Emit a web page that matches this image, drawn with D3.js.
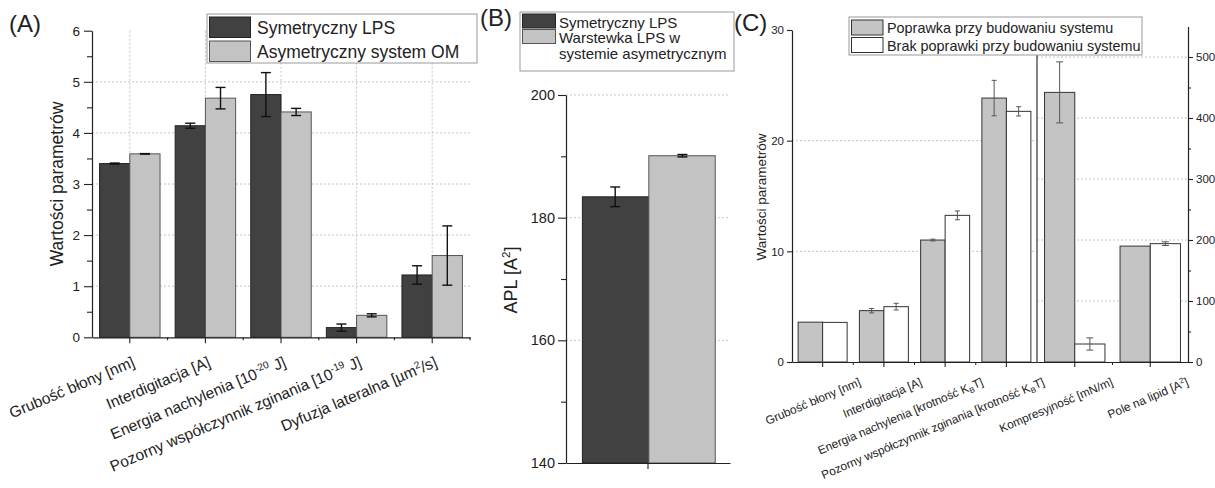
<!DOCTYPE html>
<html><head><meta charset="utf-8">
<script src="https://cdn.jsdelivr.net/npm/d3@7"></script>
<style>
body{margin:0;background:#fff}
svg{display:block}
text{font-family:"Liberation Sans",Arial,sans-serif;fill:#222}
</style>
</head><body>
<svg id="fig" width="1215" height="488"></svg>
<script>
// ---------- Panel A: parameters of symmetric vs asymmetric membranes ----------
const catsA = ["Grubość błony [nm]", "Interdigitacja [A]", "Energia nachylenia [10^{-20} J]",
  "Pozorny współczynnik zginania [10^{-19} J]", "Dyfuzja lateralna [µm^{2}/s]"];
const symA = [3.40, 4.14, 4.75, 0.19, 1.22];
const symAErr = [0.01, 0.05, 0.43, 0.07, 0.18];
const asymA = [3.59, 4.68, 4.41, 0.43, 1.60];
const asymAErr = [0.005, 0.21, 0.07, 0.03, 0.58];
const seriesA = ["Symetryczny LPS", "Asymetryczny system OM"];
const ticksA = [0, 1, 2, 3, 4, 5, 6];

// ---------- Panel B: area per lipid ----------
const catsB = ["APL"];
const aplSym = [183.4], aplSymErr = [1.6];
const aplAsym = [190.1], aplAsymErr = [0.2];
const seriesB = [["Symetryczny LPS"], ["Warstewka LPS w", "systemie asymetrycznym"]];
const ticksB = [140, 160, 180, 200];

// ---------- Panel C: with / without correction while building the system ----------
const catsCL = ["Grubość błony [nm]", "Interdigitacja [A]", "Energia nachylenia [krotność K_{B}T]",
  "Pozorny współczynnik zginania [krotność K_{B}T]"];
const corrCL = [3.60, 4.64, 11.02, 23.85];
const corrCLErr = [0, 0.2, 0.08, 1.6];
const noCorrCL = [3.58, 5.0, 13.25, 22.65];
const noCorrCLErr = [0, 0.3, 0.4, 0.42];
const catsCR = ["Kompresyjność [mN/m]", "Pole na lipid [A^{2}]"];
const corrCR = [442, 190];
const corrCRErr = [50, 0];
const noCorrCR = [29.5, 194];
const noCorrCRErr = [10, 3];
const seriesC = ["Poprawka przy budowaniu systemu", "Brak poprawki przy budowaniu systemu"];
const ticksCL = [0, 10, 20, 30];
const ticksCR = [0, 100, 200, 300, 400, 500];

const svg = d3.select("#fig");
const FONT = '"Liberation Sans",Arial,sans-serif';
const AX = "#222";
const GRID = "#c6c6c6";

// text with ^{sup} and _{sub} markup
function rich(t, str, fs) {
  const re = /([\^_])\{([^}]*)\}/g;
  let last = 0, m, cur = 0;
  const add = (s, off, size) => {
    t.append("tspan").attr("dy", off - cur).attr("font-size", size).text(s);
    cur = off;
  };
  while ((m = re.exec(str))) {
    if (m.index > last) add(str.slice(last, m.index), 0, fs);
    add(m[2], m[1] === "^" ? -0.38 * fs : 0.22 * fs, fs * 0.65);
    last = re.lastIndex;
  }
  if (last < str.length) add(str.slice(last), 0, fs);
  return t;
}

function styleAxis(g, fs) {
  g.select(".domain").attr("stroke", AX).attr("stroke-width", 1.2);
  g.selectAll(".tick line").attr("stroke", AX).attr("stroke-width", 1.1);
  g.selectAll("text").attr("font-family", FONT).attr("font-size", fs).attr("fill", "#222");
}

function hGrid(vals, y, x0, x1) {
  svg.append("g").selectAll("line").data(vals).join("line")
    .attr("x1", x0).attr("x2", x1).attr("y1", d => y(d)).attr("y2", d => y(d))
    .attr("stroke", GRID).attr("stroke-dasharray", "2,2");
}

function errBar(g, cx, y, v, e, cap, color, w) {
  if (!e) return;
  g.append("line").attr("x1", cx).attr("x2", cx).attr("y1", y(v - e)).attr("y2", y(v + e))
    .attr("stroke", color).attr("stroke-width", w);
  [v - e, v + e].forEach(q => g.append("line").attr("x1", cx - cap / 2).attr("x2", cx + cap / 2)
    .attr("y1", y(q)).attr("y2", y(q)).attr("stroke", color).attr("stroke-width", w));
}

function panelLabel(txt, x, y) {
  svg.append("text").attr("x", x).attr("y", y).attr("font-size", 24).text(txt);
}

// ======================= Panel A =======================
{
  const y = d3.scaleLinear().domain([0, 6]).range([337.3, 30.7]);
  const x = d3.scaleBand().domain(catsA).range([92, 470]).paddingInner(0).paddingOuter(0);
  const bw = x.bandwidth();

  // grid
  hGrid([1, 2, 3, 4, 5], y, 92, 470);
  svg.append("g").selectAll("line").data(catsA).join("line")
    .attr("x1", d => x(d) + bw / 2).attr("x2", d => x(d) + bw / 2)
    .attr("y1", y(6)).attr("y2", y(0)).attr("stroke", GRID).attr("stroke-dasharray", "2,2");

  // bars
  const g = svg.append("g");
  catsA.forEach((c, i) => {
    g.append("rect").attr("x", x(c) + bw * 0.1).attr("width", bw * 0.4)
      .attr("y", y(symA[i])).attr("height", y(0) - y(symA[i]))
      .attr("fill", "#414141").attr("stroke", "#222").attr("stroke-width", 1);
    g.append("rect").attr("x", x(c) + bw * 0.5).attr("width", bw * 0.4)
      .attr("y", y(asymA[i])).attr("height", y(0) - y(asymA[i]))
      .attr("fill", "#c3c3c3").attr("stroke", "#555").attr("stroke-width", 1);
  });
  catsA.forEach((c, i) => {
    errBar(g, x(c) + bw * 0.3, y, symA[i], symAErr[i], 10, "#111", 1.4);
    errBar(g, x(c) + bw * 0.7, y, asymA[i], asymAErr[i], 10, "#111", 1.4);
  });

  // axes
  const ya = svg.append("g").attr("transform", "translate(92,0)")
    .call(d3.axisLeft(y).tickValues(ticksA).tickFormat(d3.format("d")).tickSize(8).tickSizeOuter(0).tickPadding(4));
  styleAxis(ya, 13.5);
  const yMinor = svg.append("g").attr("transform", "translate(92,0)")
    .call(d3.axisLeft(y).tickValues(d3.range(0.5, 6, 1)).tickFormat("").tickSize(5).tickSizeOuter(0));
  styleAxis(yMinor, 13); yMinor.select(".domain").remove();

  const xa = svg.append("g").attr("transform", `translate(0,${y(0)})`)
    .call(d3.axisBottom(x).tickFormat("").tickSize(6).tickSizeOuter(0));
  styleAxis(xa, 13);
  svg.append("g").selectAll("line").data(catsA.slice(1).concat(["_end"])).join("line")
    .attr("x1", d => d === "_end" ? 470 : x(d)).attr("x2", d => d === "_end" ? 470 : x(d))
    .attr("y1", y(0)).attr("y2", y(0) + 3).attr("stroke", AX).attr("stroke-width", 1.1);

  catsA.forEach(c => {
    const t = svg.append("text").attr("text-anchor", "end").attr("font-size", 15.5)
      .attr("transform", `translate(${x(c) + bw / 2 + 6},366) rotate(-23)`);
    rich(t, c, 15.5);
  });

  svg.append("text").attr("transform", "translate(57,184) rotate(-90)")
    .attr("text-anchor", "middle").attr("dy", "0.35em").attr("font-size", 17.5).text("Wartości parametrów");

  // legend
  const lg = svg.append("g");
  lg.append("rect").attr("x", 207).attr("y", 14).attr("width", 270).attr("height", 49)
    .attr("fill", "#fff").attr("stroke", "#999");
  [["#414141", "#222"], ["#c3c3c3", "#555"]].forEach((c, i) => {
    lg.append("rect").attr("x", 209.5).attr("y", 17 + i * 24).attr("width", 41).attr("height", 20.5)
      .attr("fill", c[0]).attr("stroke", c[1]);
    lg.append("text").attr("x", 257).attr("y", 34 + i * 24).attr("font-size", 17.5).text(seriesA[i]);
  });
  panelLabel("(A)", 9, 32);
}

// ======================= Panel B =======================
{
  const y = d3.scaleLinear().domain([140, 200]).range([463, 95]);
  const x = d3.scaleBand().domain(catsB).range([566, 730]);
  const bw = x.bandwidth();
  hGrid([160, 180, 200], y, 566, 730);

  const g = svg.append("g");
  catsB.forEach((c, i) => {
    g.append("rect").attr("x", x(c) + bw * 0.1).attr("width", bw * 0.405)
      .attr("y", y(aplSym[i])).attr("height", y(140) - y(aplSym[i]))
      .attr("fill", "#414141").attr("stroke", "#222");
    g.append("rect").attr("x", x(c) + bw * 0.505).attr("width", bw * 0.405)
      .attr("y", y(aplAsym[i])).attr("height", y(140) - y(aplAsym[i]))
      .attr("fill", "#c3c3c3").attr("stroke", "#555");
    errBar(g, x(c) + bw * 0.3, y, aplSym[i], aplSymErr[i], 10, "#111", 1.4);
    errBar(g, x(c) + bw * 0.71, y, aplAsym[i], aplAsymErr[i], 10, "#111", 1.4);
  });

  const ya = svg.append("g").attr("transform", "translate(566,0)")
    .call(d3.axisLeft(y).tickValues(ticksB).tickSize(8).tickSizeOuter(0).tickPadding(3));
  styleAxis(ya, 14.5);
  const ym = svg.append("g").attr("transform", "translate(566,0)")
    .call(d3.axisLeft(y).tickValues([150, 170, 190]).tickFormat("").tickSize(5).tickSizeOuter(0));
  styleAxis(ym, 13); ym.select(".domain").remove();
  const xa = svg.append("g").attr("transform", `translate(0,${y(140)})`)
    .call(d3.axisBottom(x).tickFormat("").tickSize(6).tickSizeOuter(0));
  styleAxis(xa, 13);

  const t = svg.append("text").attr("transform", "translate(517,280) rotate(-90)")
    .attr("text-anchor", "middle").attr("dy", "0.35em").attr("font-size", 18);
  rich(t, "APL [A^{2}]", 18);

  const lg = svg.append("g");
  lg.append("rect").attr("x", 520).attr("y", 12).attr("width", 214).attr("height", 59)
    .attr("fill", "#fff").attr("stroke", "#999");
  [["#414141", "#222"], ["#c3c3c3", "#555"]].forEach((c, i) => {
    lg.append("rect").attr("x", 522.5).attr("y", 14 + i * 15.5).attr("width", 33).attr("height", 14)
      .attr("fill", c[0]).attr("stroke", c[1]);
  });
  let row = 0;
  seriesB.forEach(lines => lines.forEach(s => {
    lg.append("text").attr("x", 559).attr("y", 28 + row * 15.3).attr("font-size", 15).text(s);
    row++;
  }));
  panelLabel("(B)", 480, 26);
}

// ======================= Panel C =======================
{
  const yL = d3.scaleLinear().domain([0, 30]).range([362, 30]);
  const yR = d3.scaleLinear().domain([0, 550]).range([362, 26.5]);
  const xL = d3.scaleBand().domain(catsCL).range([792, 1037]);
  const xR = d3.scaleBand().domain(catsCR).range([1037, 1188]);

  hGrid([10, 20], yL, 792, 1037);
  hGrid([100, 200, 300, 400, 500], yR, 1037, 1188);

  const g = svg.append("g");
  const drawSet = (x, y, cats, a, ae, b, be, cap) => {
    const bw = x.bandwidth();
    cats.forEach((c, i) => {
      g.append("rect").attr("x", x(c) + bw * 0.1).attr("width", bw * 0.4)
        .attr("y", y(a[i])).attr("height", y(0) - y(a[i]))
        .attr("fill", "#c4c4c4").attr("stroke", "#333");
      g.append("rect").attr("x", x(c) + bw * 0.5).attr("width", bw * 0.4)
        .attr("y", y(b[i])).attr("height", y(0) - y(b[i]))
        .attr("fill", "#fff").attr("stroke", "#333");
      errBar(g, x(c) + bw * 0.3, y, a[i], ae[i], cap, "#555", 1);
      errBar(g, x(c) + bw * 0.7, y, b[i], be[i], cap, "#555", 1);
    });
  };
  drawSet(xL, yL, catsCL, corrCL, corrCLErr, noCorrCL, noCorrCLErr, 5);
  drawSet(xR, yR, catsCR, corrCR, corrCRErr, noCorrCR, noCorrCRErr, 7);

  // separator between the two value ranges
  svg.append("line").attr("x1", 1037).attr("x2", 1037).attr("y1", 28).attr("y2", 362)
    .attr("stroke", "#333").attr("stroke-width", 1.2);

  const ya = svg.append("g").attr("transform", "translate(792,0)")
    .call(d3.axisLeft(yL).tickValues(ticksCL).tickSize(5).tickSizeOuter(0).tickPadding(3));
  styleAxis(ya, 11.5);
  const yr = svg.append("g").attr("transform", "translate(1188,0)")
    .call(d3.axisRight(yR).tickValues(ticksCR).tickSize(5).tickSizeOuter(0).tickPadding(3));
  styleAxis(yr, 11.5);
  const yrm = svg.append("g").attr("transform", "translate(1188,0)")
    .call(d3.axisRight(yR).tickValues([50, 150, 250, 350, 450]).tickFormat("").tickSize(3).tickSizeOuter(0));
  styleAxis(yrm, 11); yrm.select(".domain").remove();

  const xa = svg.append("g").attr("transform", "translate(0,362)")
    .call(d3.axisBottom(xL).tickFormat("").tickSize(5).tickSizeOuter(0));
  styleAxis(xa, 11);
  const xb = svg.append("g").attr("transform", "translate(0,362)")
    .call(d3.axisBottom(xR).tickFormat("").tickSize(5).tickSizeOuter(0));
  styleAxis(xb, 11);
  const minorPos = catsCL.slice(1).map(c => xL(c)).concat(catsCR.slice(1).map(c => xR(c)));
  svg.append("g").selectAll("line").data(minorPos).join("line")
    .attr("x1", d => d).attr("x2", d => d).attr("y1", 362).attr("y2", 365)
    .attr("stroke", AX);

  const lab = (x, c) => {
    const t = svg.append("text").attr("text-anchor", "end").attr("font-size", 11.8)
      .attr("transform", `translate(${x(c) + x.bandwidth() / 2 + 39},385) rotate(-23)`);
    rich(t, c, 11.8);
  };
  catsCL.forEach(c => lab(xL, c));
  catsCR.forEach(c => lab(xR, c));

  svg.append("text").attr("transform", "translate(761,197) rotate(-90)")
    .attr("text-anchor", "middle").attr("dy", "0.35em").attr("font-size", 13.5).text("Wartości parametrów");

  const lg = svg.append("g");
  lg.append("rect").attr("x", 849).attr("y", 17).attr("width", 293).attr("height", 38)
    .attr("fill", "#fff").attr("stroke", "#999");
  ["#c4c4c4", "#fff"].forEach((f, i) => {
    lg.append("rect").attr("x", 851.5).attr("y", 20 + i * 17.5).attr("width", 31.5).attr("height", 15)
      .attr("fill", f).attr("stroke", "#333");
    lg.append("text").attr("x", 887).attr("y", 33 + i * 17.5).attr("font-size", 14.4).text(seriesC[i]);
  });
  panelLabel("(C)", 734, 31);
}
</script>
</body></html>
